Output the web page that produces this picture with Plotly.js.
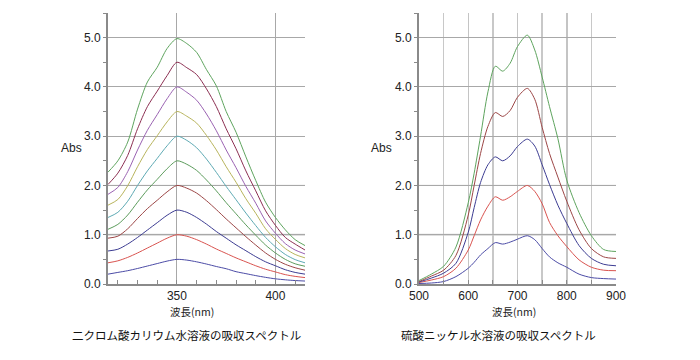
<!DOCTYPE html>
<html>
<head>
<meta charset="utf-8">
<script src="https://cdn.plot.ly/plotly-3.0.1.min.js"></script>
<style>html,body{margin:0;padding:0;background:#fff;}#chart{width:700px;height:360px;}</style>
</head>
<body>
<div id="chart"></div>
<script>
// ---- Data: potassium dichromate solution (left) ----
const dichromateWl = [315,320,325,330,335,340,345,350,355,360,365,370,375,380,385,390,395,400,405,410,415];
const dichromate05 = [0.20,0.235,0.27,0.315,0.365,0.415,0.465,0.50,0.485,0.45,0.405,0.355,0.31,0.25,0.21,0.17,0.135,0.105,0.085,0.07,0.06];
const dichromate10 = [0.43,0.47,0.54,0.63,0.73,0.83,0.93,1.00,0.97,0.90,0.81,0.71,0.62,0.53,0.45,0.37,0.30,0.245,0.19,0.155,0.13];
const dichromate15 = [0.67,0.705,0.81,0.945,1.095,1.245,1.395,1.50,1.455,1.35,1.215,1.065,0.93,0.795,0.675,0.555,0.45,0.37,0.29,0.235,0.20];
const dichromate20 = [0.93,0.97,1.12,1.33,1.53,1.70,1.87,2.00,1.945,1.845,1.69,1.51,1.32,1.14,0.96,0.79,0.63,0.50,0.40,0.33,0.28];
const dichromate25 = [1.11,1.21,1.40,1.66,1.91,2.125,2.34,2.50,2.43,2.305,2.11,1.89,1.65,1.425,1.20,0.99,0.79,0.63,0.50,0.41,0.36];
const dichromate30 = [1.35,1.455,1.68,2.00,2.295,2.55,2.805,3.00,2.915,2.765,2.535,2.265,1.98,1.71,1.44,1.185,0.945,0.755,0.60,0.495,0.43];
const dichromate35 = [1.60,1.715,1.995,2.38,2.73,3.01,3.29,3.50,3.405,3.265,3.015,2.72,2.38,2.065,1.73,1.435,1.12,0.905,0.72,0.60,0.53];
const dichromate40 = [1.82,1.96,2.28,2.72,3.12,3.44,3.76,4.00,3.89,3.73,3.45,3.11,2.72,2.36,1.98,1.64,1.28,1.03,0.82,0.69,0.61];
const dichromate45 = [2.02,2.25,2.61,3.15,3.60,3.915,4.23,4.50,4.39,4.25,3.96,3.60,3.15,2.745,2.295,1.89,1.485,1.19,0.945,0.81,0.69];
const dichromate50 = [2.27,2.50,2.88,3.55,4.10,4.40,4.78,4.98,4.88,4.70,4.35,4.02,3.50,3.08,2.58,2.10,1.66,1.35,1.10,0.90,0.78];
const dichromateColors = ['#4b4ba6','#d9534f','#3c3c92','#9c4646','#5c9c5c','#5eaab4','#b8b45c','#9a62b2','#8c2f52','#5ea45e'];

// ---- Data: nickel sulfate solution (right) ----
const nickelWl = [500,525,550,575,600,612,625,640,655,670,685,700,720,735,750,765,782,800,825,850,875,900];
const nickel1 = [0.01,0.02,0.05,0.15,0.32,0.44,0.59,0.72,0.84,0.81,0.85,0.91,0.98,0.90,0.72,0.55,0.43,0.34,0.20,0.13,0.11,0.10];
const nickel2 = [0.03,0.08,0.15,0.32,0.69,0.98,1.30,1.58,1.77,1.70,1.77,1.88,2.00,1.88,1.63,1.25,0.98,0.76,0.49,0.34,0.28,0.27];
const nickel3 = [0.04,0.12,0.22,0.42,1.05,1.55,2.06,2.42,2.58,2.50,2.60,2.79,2.94,2.80,2.42,2.02,1.60,1.23,0.78,0.52,0.40,0.37];
const nickel4 = [0.05,0.16,0.28,0.58,1.40,2.00,2.65,3.20,3.48,3.40,3.52,3.79,3.97,3.75,3.18,2.65,2.17,1.68,1.10,0.72,0.55,0.52];
const nickel5 = [0.07,0.20,0.36,0.75,1.65,2.25,3.00,3.90,4.42,4.32,4.48,4.82,5.05,4.75,4.20,3.60,2.95,2.11,1.45,0.98,0.70,0.66];
const nickelColors = ['#4b4ba6','#d9534f','#3c3c92','#9c4646','#5ea45e'];

// ---- Texts ----
const yTitle = 'Abs';
const xTitle = '波長(nm)';
const leftCaption = '二クロム酸カリウム水溶液の吸収スペクトル';
const rightCaption = '硫酸ニッケル水溶液の吸収スペクトル';
const leftTickVals = [350, 400];
const rightTickVals = [500, 600, 700, 800, 900];
const yTickVals = [0, 1, 2, 3, 4, 5];

const dichromateSeries = [dichromate05,dichromate10,dichromate15,dichromate20,dichromate25,dichromate30,dichromate35,dichromate40,dichromate45,dichromate50];
const nickelSeries = [nickel1,nickel2,nickel3,nickel4,nickel5];

const traces = [];
dichromateSeries.forEach((ys, i) => traces.push({
  x: dichromateWl, y: ys, type: 'scatter', mode: 'lines', xaxis: 'x', yaxis: 'y',
  line: {color: dichromateColors[i], width: 1, shape: 'spline', smoothing: 0.8}, hoverinfo: 'skip'
}));
nickelSeries.forEach((ys, i) => traces.push({
  x: nickelWl, y: ys, type: 'scatter', mode: 'lines', xaxis: 'x2', yaxis: 'y2',
  line: {color: nickelColors[i], width: 1, shape: 'spline', smoothing: 0.8}, hoverinfo: 'skip'
}));

const numFont = {family: 'Liberation Sans, Arial, sans-serif', size: 12, color: '#222'};
const cjkFont = {family: 'Noto Sans CJK JP, sans-serif', size: 11.5, color: '#111'};

function yAxis(anchor) {
  return {
    anchor: anchor, range: [0, 5.5], tickvals: yTickVals, tickformat: '.1f',
    showgrid: true, gridcolor: '#a8a8a8', gridwidth: 1, zeroline: false,
    showline: true, linecolor: '#8a8a8a', linewidth: 2,
    ticks: 'outside', ticklen: 3, tickcolor: '#8a8a8a', tickfont: numFont,
    minor: {dtick: 0.5, ticks: 'outside', ticklen: 3, tickcolor: '#8a8a8a', showgrid: false},
    fixedrange: true
  };
}

const layout = {
  width: 700, height: 360,
  margin: {l: 0, r: 0, t: 13, b: 76},
  paper_bgcolor: '#fff', plot_bgcolor: '#fff',
  showlegend: false,
  xaxis: {
    domain: [108/700, 305/700], anchor: 'y', range: [315, 415], tickvals: leftTickVals,
    showgrid: true, gridcolor: '#a8a8a8', zeroline: false,
    showline: true, linecolor: '#8a8a8a', linewidth: 2,
    ticks: 'inside', ticklen: 4, tickcolor: '#8a8a8a', tickfont: numFont,
    minor: {dtick: 10, tick0: 310, ticks: 'inside', ticklen: 4, tickcolor: '#8a8a8a', showgrid: false},
    fixedrange: true
  },
  yaxis: yAxis('x'),
  xaxis2: {
    domain: [419/700, 616/700], anchor: 'y2', range: [500, 900], tickvals: rightTickVals,
    showgrid: true, gridcolor: '#c4c4c4', gridwidth: 1.5, zeroline: false,
    showline: true, linecolor: '#8a8a8a', linewidth: 2,
    ticks: 'inside', ticklen: 4, tickcolor: '#8a8a8a', tickfont: numFont,
    minor: {dtick: 50, tick0: 500, ticks: 'inside', ticklen: 4, tickcolor: '#8a8a8a', showgrid: true, gridcolor: '#c8c8c8', gridwidth: 1.5},
    fixedrange: true
  },
  yaxis2: yAxis('x2'),
  shapes: [
    {type: 'line', xref: 'x domain', yref: 'y', x0: 0, x1: 1, y0: 1, y1: 1, line: {color: '#d4d4d4', width: 2}, layer: 'below'},
    {type: 'line', xref: 'x domain', yref: 'y', x0: 0, x1: 1, y0: 2, y1: 2, line: {color: '#707070', width: 1}, layer: 'below'},
    {type: 'line', xref: 'x2 domain', yref: 'y2', x0: 0, x1: 1, y0: 1, y1: 1, line: {color: '#d4d4d4', width: 2}, layer: 'below'},
    {type: 'line', xref: 'x2 domain', yref: 'y2', x0: 0, x1: 1, y0: 2, y1: 2, line: {color: '#707070', width: 1}, layer: 'below'},
    {type: 'line', xref: 'x2', yref: 'y2 domain', x0: 650, x1: 650, y0: 0, y1: 1, line: {color: '#8c8c8c', width: 1}, layer: 'below'},
    {type: 'line', xref: 'x2', yref: 'y2 domain', x0: 700, x1: 700, y0: 0, y1: 1, line: {color: '#555', width: 1}, layer: 'below'},
    {type: 'line', xref: 'x2', yref: 'y2 domain', x0: 750, x1: 750, y0: 0, y1: 1, line: {color: '#9a9a9a', width: 1}, layer: 'below'}
  ],
  annotations: [
    {text: yTitle, xref: 'paper', yref: 'paper', x: 71/700, y: 0.502, showarrow: false, font: numFont, xanchor: 'center', yanchor: 'middle'},
    {text: yTitle, xref: 'paper', yref: 'paper', x: 381/700, y: 0.502, showarrow: false, font: numFont, xanchor: 'center', yanchor: 'middle'},
    {text: xTitle, xref: 'paper', yref: 'paper', x: 192/700, y: -0.103, showarrow: false, font: {family: cjkFont.family, size: 10.5, color: '#222'}, xanchor: 'center', yanchor: 'middle'},
    {text: xTitle, xref: 'paper', yref: 'paper', x: 514/700, y: -0.103, showarrow: false, font: {family: cjkFont.family, size: 10.5, color: '#222'}, xanchor: 'center', yanchor: 'middle'},
    {text: leftCaption, xref: 'paper', yref: 'paper', x: 186/700, y: -0.188, showarrow: false, font: cjkFont, xanchor: 'center', yanchor: 'middle'},
    {text: rightCaption, xref: 'paper', yref: 'paper', x: 498/700, y: -0.188, showarrow: false, font: cjkFont, xanchor: 'center', yanchor: 'middle'}
  ]
};

Plotly.newPlot('chart', traces, layout, {staticPlot: true, displayModeBar: false});
</script>
</body>
</html>
